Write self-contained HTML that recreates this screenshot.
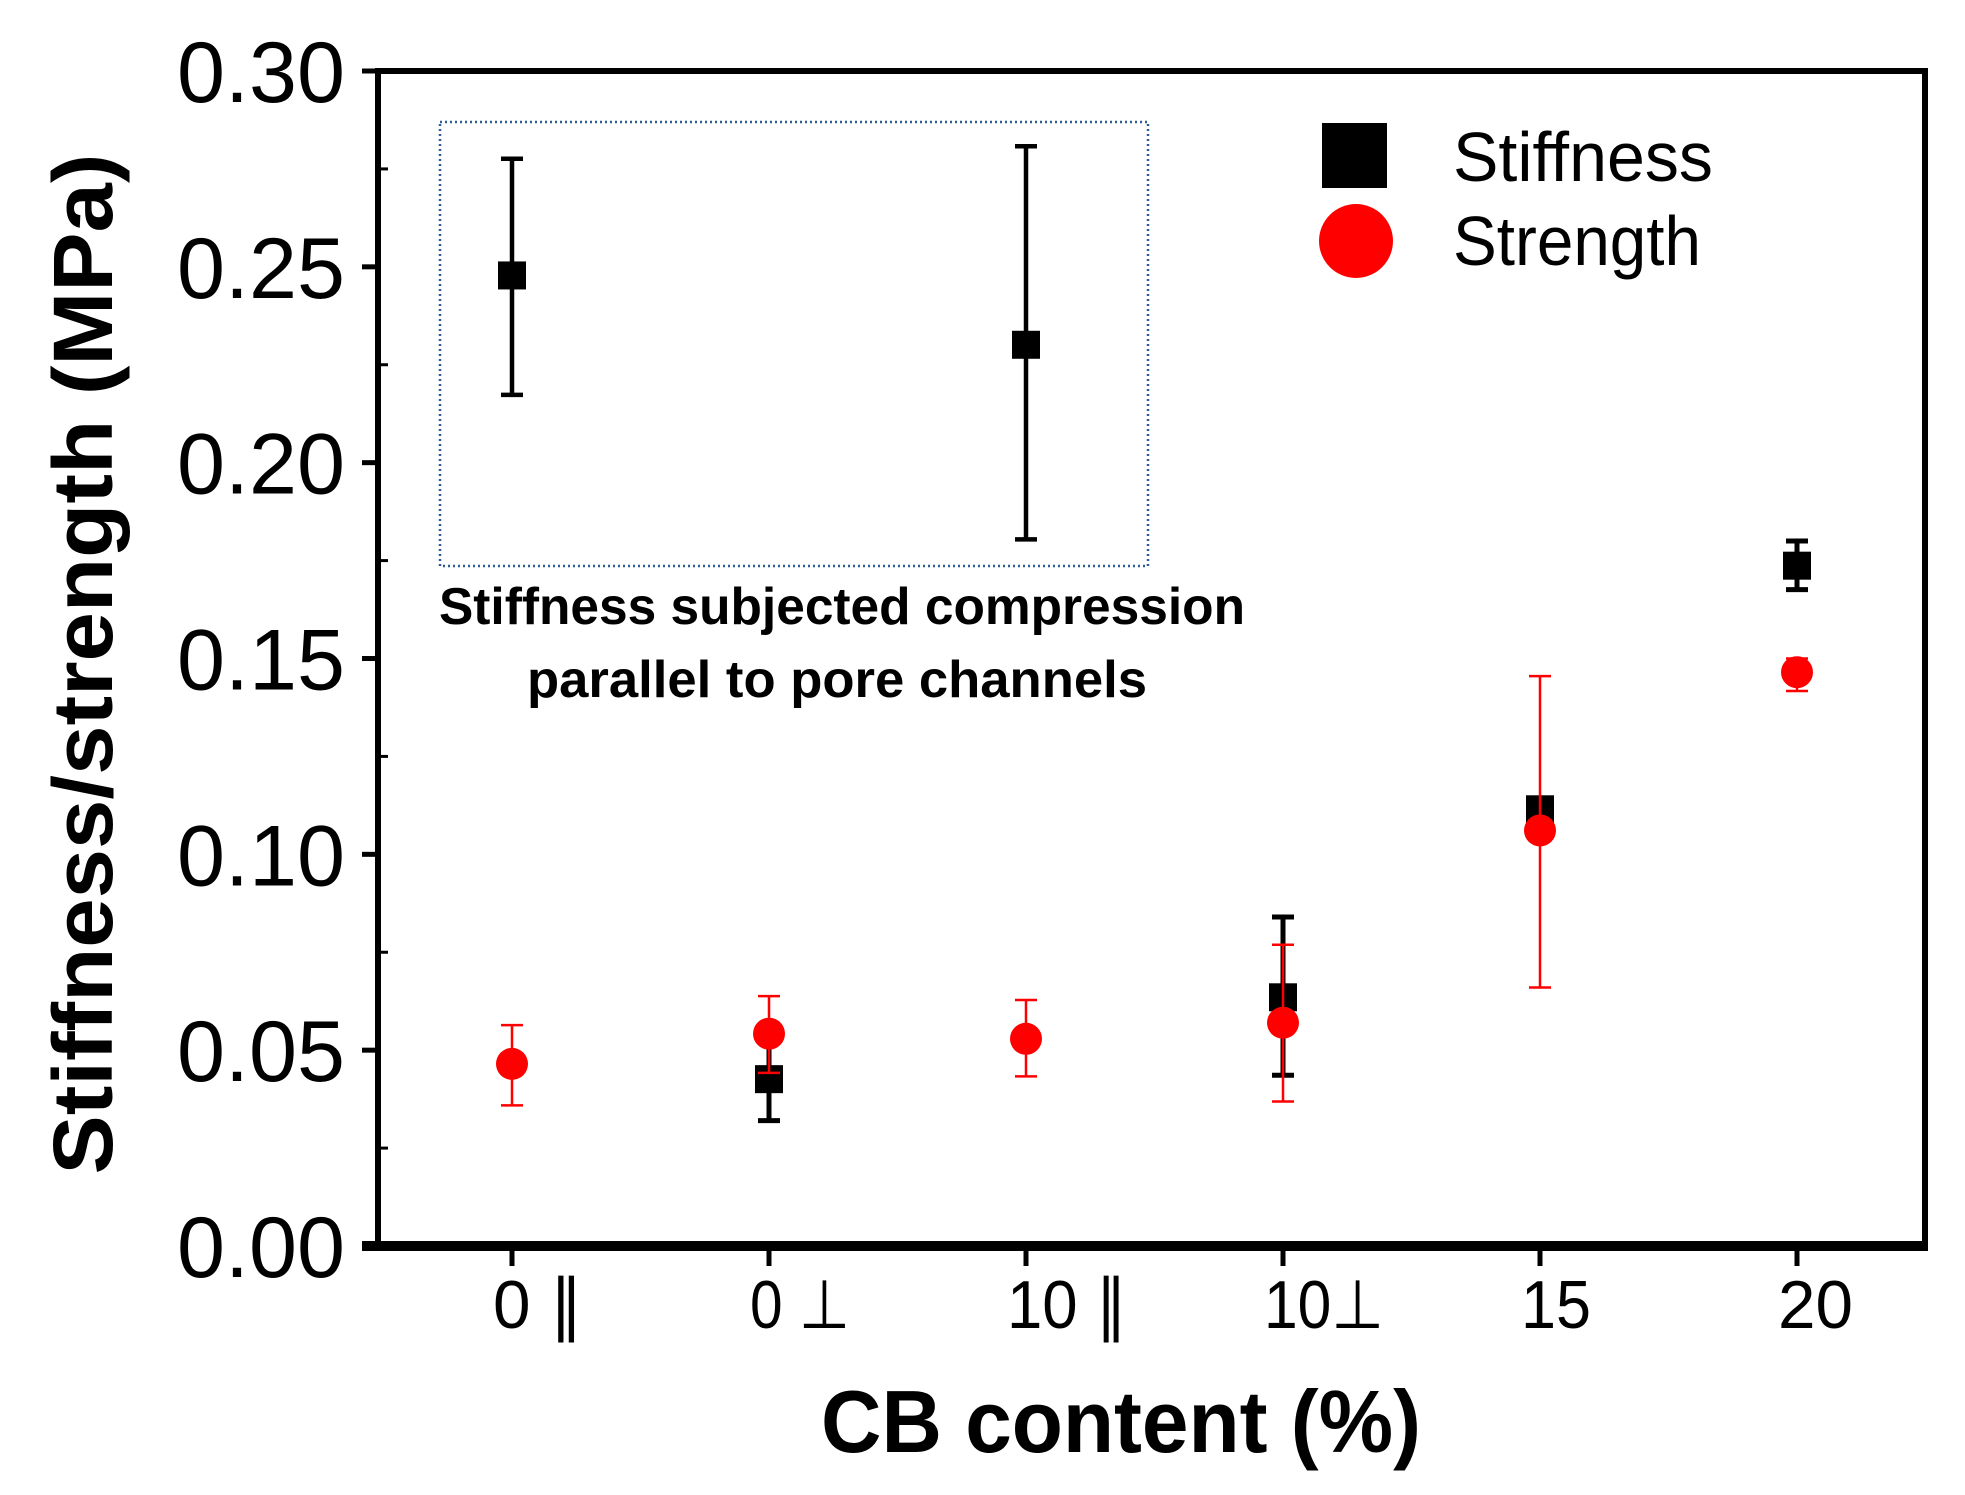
<!DOCTYPE html>
<html><head><meta charset="utf-8"><style>
html,body{margin:0;padding:0;background:#fff;}
svg{display:block;font-family:"Liberation Sans",Arial,sans-serif;}
</style></head><body>
<svg id="chart" width="1965" height="1495" viewBox="0 0 1965 1495">
<g id="g"></g>
</svg>
<script>
const categories = ["0 \u2225", "0 \u22A5", "10 \u2225", "10\u22A5", "15", "20"];
const yTicks = ["0.00","0.05","0.10","0.15","0.20","0.25","0.30"];
const stiffX = [1, 3, 4, 5];
const stiffVal = [0.0426, 0.0635, 0.1115, 0.1737];
const stiffLo = [0.032, 0.0436, 0.109, 0.1676];
const stiffHi = [0.052, 0.084, 0.114, 0.180];
const strX = [0, 1, 2, 3, 4, 5];
const strVal = [0.0465, 0.0542, 0.0529, 0.057, 0.1061, 0.1465];
const strLo = [0.0359, 0.0442, 0.0433, 0.0369, 0.066, 0.1417];
const strHi = [0.0564, 0.0638, 0.0628, 0.0769, 0.1455, 0.150];
const insetX = [0, 2];
const insetVal = [0.2478, 0.2301];
const insetLo = [0.2173, 0.1804];
const insetHi = [0.2776, 0.2808];

const NS = "http://www.w3.org/2000/svg";
const g = document.getElementById('g');
const L = 378, R = 1925, T = 71, B = 1246;
const xs = i => 512 + 257 * i;
const ys = v => B - (v / 0.30) * (B - T);
function mk(tag, attrs, parent) {
  const e = document.createElementNS(NS, tag);
  for (const k in attrs) e.setAttribute(k, attrs[k]);
  (parent || g).appendChild(e);
  return e;
}
let e;
e = mk('rect', {x: L, y: T, width: R - L, height: B - T, fill: 'none', stroke: '#000', 'stroke-width': 6});


e = mk('line', {x1: L - 16, x2: R + 3, y1: B, y2: B, stroke: '#000', 'stroke-width': 10});


yTicks.forEach((t, i) => {
  const y = ys(parseFloat(t));
  let tk = mk('line', {x1: L - 16, x2: L, y1: y, y2: y, stroke: '#000', 'stroke-width': 5});
  
  
  let tx = mk('text', {x: 345, y: y + 31, 'font-size': 86, 'text-anchor': 'end', fill: '#000', textLength: 168, lengthAdjust: 'spacingAndGlyphs'});
  tx.textContent = t;
  
  
  if (i < yTicks.length - 1) {
    const ym = ys(parseFloat(t) + 0.025);
    let mt = mk('line', {x1: L, x2: L + 10, y1: ym, y2: ym, stroke: '#000', 'stroke-width': 3});
    
    
  }
});
const xLabW = [90, 100, 120, 120, 70, 75];
categories.forEach((c, i) => {
  const x = xs(i);
  let tk = mk('line', {x1: x, x2: x, y1: B, y2: B + 20, stroke: '#000', 'stroke-width': 5});
  
  
  let tx = mk('text', {x: x - 19, y: 1328, 'font-size': 68, fill: '#000', textLength: xLabW[i], lengthAdjust: 'spacingAndGlyphs'});
  tx.textContent = c;
  
  
});
e = mk('text', {x: 1121, y: 1452, 'font-size': 88, 'font-weight': 'bold', 'text-anchor': 'middle', textLength: 600, lengthAdjust: 'spacingAndGlyphs'});
e.textContent = 'CB content (%)';


e = mk('text', {x: 0, y: 0, 'font-size': 84, 'font-weight': 'bold', 'text-anchor': 'middle', textLength: 1021, lengthAdjust: 'spacingAndGlyphs', transform: 'translate(112,664) rotate(-90)'});
e.textContent = 'Stiffness/strength (MPa)';


e = mk('rect', {x: 440, y: 122, width: 708, height: 444, fill: 'none', stroke: '#2a5d9a', 'stroke-width': 2.5, 'stroke-dasharray': '2,3'});


e = mk('text', {x: 842, y: 624, 'font-size': 52, 'font-weight': 'bold', 'text-anchor': 'middle', textLength: 806, lengthAdjust: 'spacingAndGlyphs'});
e.textContent = 'Stiffness subjected compression';


e = mk('text', {x: 837, y: 697, 'font-size': 52, 'font-weight': 'bold', 'text-anchor': 'middle', textLength: 620, lengthAdjust: 'spacingAndGlyphs'});
e.textContent = 'parallel to pore channels';



function errbar(x, lo, hi, color, w, name) {
  const grp = mk('g', {});
  
  
  mk('line', {x1: x, x2: x, y1: ys(lo), y2: ys(hi), stroke: color, 'stroke-width': w}, grp);
  mk('line', {x1: x - 11, x2: x + 11, y1: ys(lo), y2: ys(lo), stroke: color, 'stroke-width': w}, grp);
  mk('line', {x1: x - 11, x2: x + 11, y1: ys(hi), y2: ys(hi), stroke: color, 'stroke-width': w}, grp);
}
insetX.forEach((c, i) => {
  errbar(xs(c), insetLo[i], insetHi[i], '#000', 4.5, 'inset-error-bar');
  let m = mk('rect', {x: xs(c) - 14, y: ys(insetVal[i]) - 14, width: 28, height: 28, fill: '#000'});
  
  
});
stiffX.forEach((c, i) => {
  errbar(xs(c), stiffLo[i], stiffHi[i], '#000', 5, 'stiffness-error-bar');
  let m = mk('rect', {x: xs(c) - 14, y: ys(stiffVal[i]) - 14, width: 28, height: 28, fill: '#000'});
  
  
});
strX.forEach((c, i) => {
  errbar(xs(c), strLo[i], strHi[i], '#f00', 2.5, 'strength-error-bar');
  let m = mk('circle', {cx: xs(c), cy: ys(strVal[i]), r: 16, fill: '#f00'});
  
  
});
const lg = mk('g', {});


e = mk('rect', {x: 1322, y: 123, width: 65, height: 65, fill: '#000'}, lg);


e = mk('text', {x: 1453, y: 181, 'font-size': 70, textLength: 260, lengthAdjust: 'spacingAndGlyphs'}, lg);
e.textContent = 'Stiffness';


e = mk('circle', {cx: 1356, cy: 241, r: 37, fill: '#f00'}, lg);


e = mk('text', {x: 1453, y: 265, 'font-size': 70, textLength: 248, lengthAdjust: 'spacingAndGlyphs'}, lg);
e.textContent = 'Strength';


</script>
</body></html>
